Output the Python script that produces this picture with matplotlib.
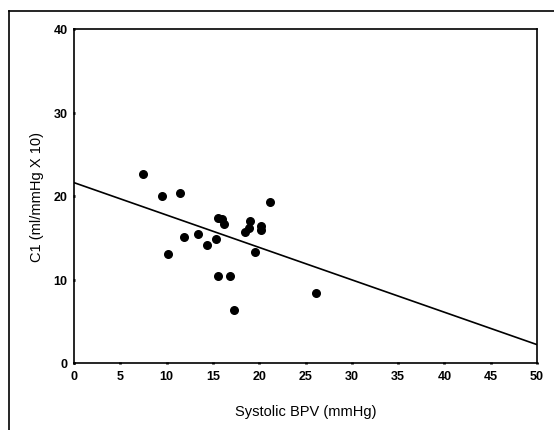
import numpy as np
import matplotlib.pyplot as plt
from matplotlib.lines import Line2D

# data
bpv = [7.4, 9.5, 11.4, 10.2, 11.9, 13.4, 14.4, 15.3, 15.6, 16.0, 16.2,
       15.5, 16.8, 17.25, 19.0, 18.9, 18.5, 20.2, 20.2, 19.55, 21.2, 26.15]
c1 = [22.6, 20.0, 20.4, 13.05, 15.1, 15.4, 14.15, 14.9, 17.4, 17.3, 16.7,
      10.45, 10.45, 6.3, 17.0, 16.2, 15.65, 16.35, 15.95, 13.25, 19.3, 8.35]
fit_x = [0, 50]
fit_y = [21.6, 2.2]
xticks = [0, 5, 10, 15, 20, 25, 30, 35, 40, 45, 50]
yticks = [0, 10, 20, 30, 40]

plt.rcParams['font.family'] = ['Liberation Sans', 'DejaVu Sans']

W, H = 554, 431
fig = plt.figure(figsize=(W / 100, H / 100), dpi=100)
ax = fig.add_axes([74 / W, 1 - 364 / H, (537 - 74) / W, (364 - 30) / H])

ax.plot(fit_x, fit_y, color='black', lw=1.2)
ax.scatter(bpv, c1, s=30, color='black', zorder=3)

ax.set_xlim(0, 50)
ax.set_ylim(0, 40)
ax.set_xticks(xticks)
ax.set_yticks(yticks)
ax.tick_params(length=1.5, width=2, direction='inout', labelsize=9, pad=4)
for lbl in ax.get_xticklabels() + ax.get_yticklabels():
    lbl.set_fontweight('bold')
for sp in ax.spines.values():
    sp.set_linewidth(1.2)

ax.set_xlabel('Systolic BPV (mmHg)', fontsize=10.5, labelpad=16)
ax.set_ylabel('C1 (ml/mmHg X 10)', fontsize=10.5, labelpad=7)

# outer frame (left and top edges visible)
fl = 9 / W
ft = 1 - 12 / H
fig.add_artist(Line2D([fl, fl], [0, ft], color='black', lw=1.2))
fig.add_artist(Line2D([fl, 1], [ft, ft], color='black', lw=1.2))

fig.savefig('out.png', dpi=100)
